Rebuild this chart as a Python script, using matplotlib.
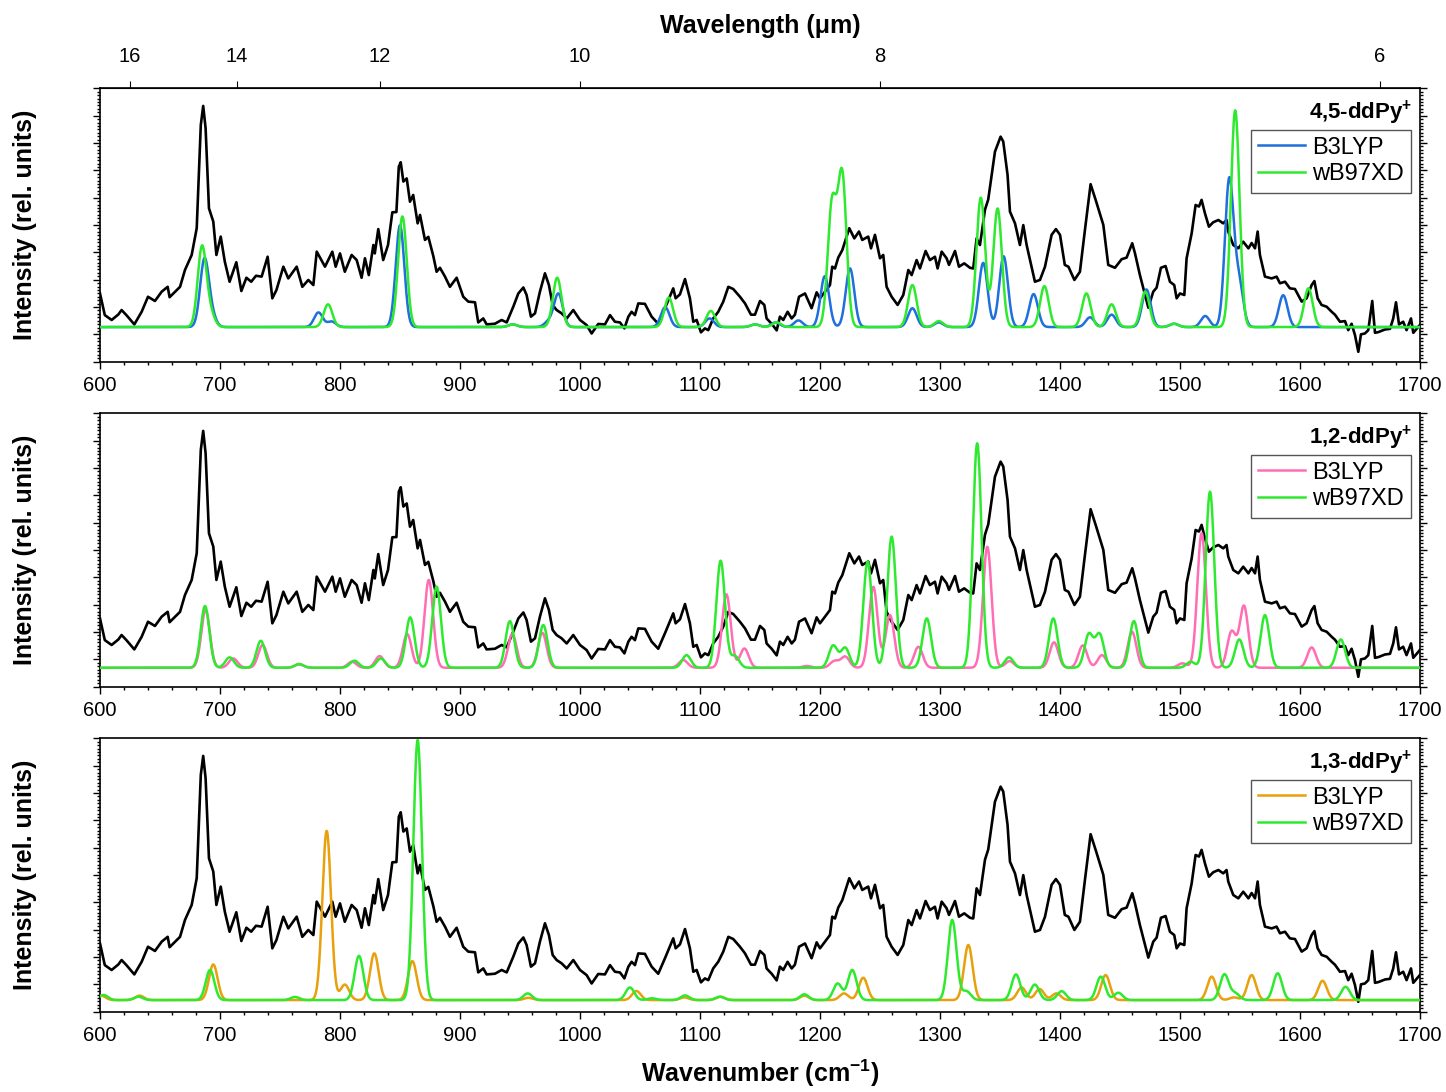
import numpy as np
import matplotlib
matplotlib.use("Agg")
import matplotlib.pyplot as plt
from matplotlib.ticker import MultipleLocator, FixedLocator, NullLocator

plt.rcParams['font.family'] = ['Liberation Sans', 'DejaVu Sans']
plt.rcParams['mathtext.fontset'] = 'custom'
plt.rcParams['mathtext.rm'] = 'Liberation Sans'
plt.rcParams['mathtext.bf'] = 'Liberation Sans:bold'
plt.rcParams['mathtext.it'] = 'Liberation Sans:italic'

# experimental IR spectrum (same trace in every panel)
exp_wn = [600, 604, 609.7, 615.3, 618, 622, 628.6, 634.7, 640, 645.8, 651.4, 656.4, 658, 666.7, 670.8,
          676.4, 680.6, 684, 686, 688, 690.8, 694.4, 697, 700.6, 704, 708, 713.6, 717.8, 722, 726,
          730, 734.7, 739.7, 743.6, 747, 752.8, 756.9, 763.9, 768.6, 773.6, 777.8, 780.6, 787.5,
          793.6, 796.4, 800, 804, 809.7, 813.9, 818, 820.8, 824, 827.8, 829, 831.9, 836, 840,
          843.6, 847, 849, 850.6, 852.8, 855.6, 858.3, 861, 864.7, 866.7, 870.8, 873.6, 877.8,
          880.5, 883.3, 887.5, 891.6, 897.2, 902.7, 906.9, 912.5, 915.2, 919.4, 922.2, 929.1,
          934.7, 938.9, 944.4, 948.6, 952.8, 955.5, 959.1, 962.5, 966.6, 970.8, 974.1, 977.2,
          980.5, 984.7, 988.9, 994.4, 1000, 1005.5, 1009.7, 1015.2, 1020.8, 1025, 1029.1, 1033.3,
          1037, 1040.3, 1043, 1045.8, 1048.6, 1054.1, 1059.7, 1065.2, 1070.8, 1077.7, 1079.7,
          1083.3, 1087.5, 1091.6, 1094.4, 1097.2, 1100.8, 1104.1, 1106.9, 1111, 1115.2, 1119.4,
          1123.6, 1127.7, 1133.3, 1137.5, 1142.5, 1145.8, 1150, 1153.6, 1155.5, 1159.7, 1163.9,
          1166.6, 1169.4, 1173, 1176.4, 1179.1, 1182.5, 1187.5, 1193, 1197.2, 1200, 1204.1,
          1208.3, 1210.2, 1212.5, 1215.2, 1218.6, 1220.8, 1224.4, 1228.6, 1232.5, 1235.2, 1240.2,
          1242.5, 1245.8, 1250, 1252.7, 1255.5, 1259.7, 1264.7, 1269.4, 1273.6, 1276.4, 1280.5,
          1283.3, 1288, 1291.6, 1295.8, 1298, 1301.4, 1305.5, 1307.5, 1312.5, 1315.8, 1320.2,
          1325, 1327.7, 1330.5, 1333.3, 1337.5, 1340.2, 1345.8, 1350.5, 1352.7, 1356.3, 1358.3,
          1362.5, 1366.6, 1369.4, 1372.2, 1379.1, 1383.3, 1387.5, 1393, 1396.6, 1400, 1404, 1407,
          1412, 1416.6, 1420.8, 1425.5, 1430, 1436.1, 1440.2, 1445.8, 1451.4, 1455.5, 1460.2,
          1462.5, 1466.6, 1473.6, 1477.7, 1480.5, 1484.1, 1488, 1491.6, 1495.2, 1497.2, 1500,
          1503.6, 1505.5, 1509.7, 1513, 1515.8, 1518, 1520.8, 1524.1, 1527.7, 1532, 1536, 1538.8,
          1540.2, 1544.4, 1548.6, 1552.7, 1557, 1559.7, 1562.5, 1564.7, 1566.6, 1570.8, 1576.4,
          1580.5, 1583.3, 1587.5, 1591.6, 1595.8, 1601.4, 1605.5, 1609.7, 1612, 1614.7, 1618,
          1622.2, 1626.4, 1629.1, 1633.3, 1637.5, 1640.2, 1643, 1645.8, 1648.6, 1650.8, 1654.1,
          1656.9, 1660.2, 1662.5, 1665.2, 1670.8, 1675, 1677.7, 1680, 1682.5, 1686, 1688.8,
          1692.5, 1694.4, 1698, 1700]
exp_int = [0.152, 0.054, 0.032, 0.057, 0.077, 0.054, 0.012, 0.069, 0.137, 0.118, 0.160, 0.182, 0.135,
           0.182, 0.258, 0.326, 0.447, 0.914, 1.0, 0.899, 0.537, 0.477, 0.326, 0.409, 0.296, 0.205,
           0.293, 0.163, 0.223, 0.205, 0.232, 0.228, 0.318, 0.130, 0.167, 0.273, 0.220, 0.273,
           0.182, 0.213, 0.190, 0.341, 0.273, 0.341, 0.273, 0.333, 0.250, 0.326, 0.303, 0.223,
           0.311, 0.235, 0.371, 0.333, 0.443, 0.303, 0.371, 0.519, 0.520, 0.725, 0.745, 0.658,
           0.672, 0.567, 0.597, 0.469, 0.507, 0.394, 0.408, 0.320, 0.250, 0.268, 0.228, 0.182,
           0.223, 0.137, 0.115, 0.112, 0.021, 0.039, 0.012, 0.015, 0.032, 0.021, 0.092, 0.152,
           0.179, 0.145, 0.047, 0.062, 0.160, 0.243, 0.190, 0.100, 0.077, 0.062, 0.039, 0.077,
           0.032, 0.009, -0.029, 0.014, 0.012, 0.054, 0.024, 0.021, -0.006, 0.047, 0.069, 0.054,
           0.107, 0.105, 0.047, 0.015, 0.085, 0.175, 0.130, 0.148, 0.217, 0.130, 0.024, 0.032,
           -0.024, -0.006, -0.014, 0.039, 0.069, 0.115, 0.182, 0.172, 0.137, 0.107, 0.056, 0.056,
           0.118, 0.100, 0.039, 0.015, -0.015, 0.047, 0.032, 0.069, 0.039, 0.056, 0.137, 0.152,
           0.085, 0.157, 0.130, 0.160, 0.190, 0.273, 0.265, 0.314, 0.348, 0.386, 0.447, 0.401,
           0.432, 0.394, 0.409, 0.356, 0.417, 0.311, 0.326, 0.182, 0.137, 0.100, 0.145, 0.258,
           0.235, 0.303, 0.265, 0.344, 0.303, 0.318, 0.265, 0.341, 0.311, 0.281, 0.344, 0.273,
           0.288, 0.268, 0.265, 0.401, 0.371, 0.531, 0.577, 0.793, 0.861, 0.839, 0.688, 0.522,
           0.469, 0.371, 0.461, 0.371, 0.205, 0.213, 0.273, 0.417, 0.443, 0.417, 0.281, 0.273,
           0.213, 0.250, 0.440, 0.646, 0.570, 0.462, 0.281, 0.268, 0.307, 0.314, 0.379, 0.333,
           0.235, 0.088, 0.160, 0.178, 0.268, 0.276, 0.205, 0.190, 0.130, 0.152, 0.145, 0.311,
           0.423, 0.552, 0.545, 0.575, 0.514, 0.454, 0.474, 0.484, 0.469, 0.484, 0.432, 0.371,
           0.356, 0.386, 0.356, 0.380, 0.356, 0.432, 0.326, 0.228, 0.220, 0.228, 0.198, 0.205,
           0.175, 0.172, 0.115, 0.130, 0.190, 0.208, 0.130, 0.100, 0.092, 0.069, 0.056, 0.024,
           0.027, -0.014, 0.015, -0.036, -0.112, -0.033, -0.029, -0.014, 0.118, -0.026, -0.023,
           -0.011, -0.008, 0.039, 0.112, 0.012, 0.024, -0.014, 0.039, -0.026, -0.003, 0.010]

# computed band positions (cm-1) and peak heights
dd45_b3lyp_pos = [687, 693, 782, 793, 850, 944, 974, 982, 1071, 1108, 1146, 1163, 1182, 1204, 1225,
                  1277, 1299, 1336, 1353, 1378, 1425, 1443, 1472, 1495, 1521, 1541, 1549, 1586]
dd45_b3lyp_int = [0.30, 0.05, 0.066, 0.025, 0.46, 0.012, 0.025, 0.15, 0.09, 0.039, 0.012, 0.021,
                  0.03, 0.23, 0.265, 0.085, 0.021, 0.29, 0.32, 0.149, 0.044, 0.056, 0.17, 0.015,
                  0.05, 0.66, 0.2, 0.144]
dd45_wb97_pos = [685, 692, 790, 852, 944, 981, 1074, 1109, 1146, 1164, 1210, 1218.5, 1277, 1299,
                 1334, 1348, 1387, 1422, 1443, 1471, 1495, 1546, 1607]
dd45_wb97_int = [0.36, 0.06, 0.103, 0.50, 0.012, 0.223, 0.133, 0.073, 0.012, 0.021, 0.55, 0.68,
                 0.19, 0.027, 0.585, 0.536, 0.185, 0.152, 0.103, 0.16, 0.015, 0.98, 0.175]

dd12_b3lyp_pos = [688, 711, 735.5, 766, 810, 833, 856, 874, 943.6, 968.6, 1086, 1122, 1137, 1189,
                  1212, 1221, 1244.4, 1258.3, 1282, 1339.4, 1358, 1395, 1419, 1435, 1460, 1502,
                  1518, 1543, 1553.3, 1609.7]
dd12_b3lyp_int = [0.261, 0.042, 0.103, 0.015, 0.027, 0.053, 0.152, 0.397, 0.152, 0.158, 0.035,
                  0.332, 0.087, 0.008, 0.03, 0.05, 0.366, 0.238, 0.095, 0.547, 0.03, 0.115, 0.101,
                  0.057, 0.163, 0.02, 0.608, 0.163, 0.279, 0.092]
dd12_wb97_pos = [687.5, 708, 734, 766, 812, 834, 858.5, 880.5, 941.6, 969.4, 1088.8, 1117.2, 1129,
                 1211, 1221, 1239.7, 1259.7, 1289, 1331, 1357.5, 1394.4, 1424, 1433, 1461.6, 1509,
                 1525, 1549.4, 1570.8, 1634]
dd12_wb97_int = [0.279, 0.047, 0.122, 0.017, 0.032, 0.042, 0.228, 0.367, 0.211, 0.193, 0.057,
                 0.484, 0.053, 0.10, 0.09, 0.48, 0.593, 0.223, 1.015, 0.047, 0.223, 0.15, 0.15,
                 0.211, 0.027, 0.796, 0.128, 0.238, 0.128]

dd13_b3lyp_pos = [601, 633, 694.4, 788.9, 804, 828.6, 860.3, 957, 1047, 1087, 1117, 1187, 1220,
                  1236, 1323.6, 1368, 1383, 1397, 1438, 1526.4, 1545, 1559.7, 1618.8]
dd13_b3lyp_int = [0.02, 0.02, 0.161, 0.765, 0.07, 0.211, 0.176, 0.01, 0.041, 0.012, 0.015, 0.02,
                  0.03, 0.101, 0.249, 0.057, 0.05, 0.03, 0.113, 0.106, 0.012, 0.113, 0.087]
dd13_wb97_pos = [603, 632, 691.7, 762.5, 815.8, 864.7, 956.4, 1041.6, 1060, 1087.5, 1116.6,
                 1186.9, 1214.7, 1226.9, 1310.2, 1322, 1363.3, 1379, 1401.4, 1434, 1448.6, 1537,
                 1546, 1581.4, 1638]
dd13_wb97_int = [0.023, 0.015, 0.136, 0.014, 0.2, 1.176, 0.03, 0.057, 0.008, 0.021, 0.015, 0.026,
                 0.075, 0.136, 0.362, 0.04, 0.116, 0.07, 0.04, 0.106, 0.033, 0.116, 0.03, 0.121,
                 0.06]

names = ['4,5-ddPy', '1,2-ddPy', '1,3-ddPy']
b3lyp_colors = ['#1f6fdc', '#ff6eb4', '#e8a00c']
wb97_color = '#2eea2e'
sim_offsets = [0.0, -0.071, -0.104]

BAND_SIGMA = 3.6  # cm-1, gaussian broadening of the computed sticks


def broaden(pos, hts, grid):
    spec = np.zeros_like(grid)
    for p, h in zip(pos, hts):
        spec += h * np.exp(-(grid - p) ** 2 / (2 * BAND_SIGMA ** 2))
    return spec


grid = np.arange(600, 1700.25, 0.25)
sims = [(dd45_b3lyp_pos, dd45_b3lyp_int, dd45_wb97_pos, dd45_wb97_int),
        (dd12_b3lyp_pos, dd12_b3lyp_int, dd12_wb97_pos, dd12_wb97_int),
        (dd13_b3lyp_pos, dd13_b3lyp_int, dd13_wb97_pos, dd13_wb97_int)]

fig = plt.figure(figsize=(14.46, 10.92), dpi=100)
left, width, height = 100 / 1446, 1320 / 1446, 274 / 1092
bottoms = [1 - 362 / 1092, 1 - 687 / 1092, 1 - 1012 / 1092]

for i, (name, col, off, sim) in enumerate(zip(names, b3lyp_colors, sim_offsets, sims)):
    ax = fig.add_axes([left, bottoms[i], width, height])
    bp, bi, wp, wi = sim
    ax.plot(exp_wn, exp_int, color='black', lw=1.9, zorder=2)
    ax.plot(grid, broaden(bp, bi, grid) + off, color=col, lw=1.8, label='B3LYP', zorder=3)
    ax.plot(grid, broaden(wp, wi, grid) + off, color=wb97_color, lw=1.8, label='wB97XD', zorder=4)

    ax.set_xlim(600, 1700)
    ax.set_ylim(-0.158, 1.081)
    ax.xaxis.set_major_locator(MultipleLocator(100))
    ax.xaxis.set_minor_locator(MultipleLocator(20))
    ax.yaxis.set_major_locator(MultipleLocator(0.1236, offset=-0.033))
    ax.yaxis.set_minor_locator(MultipleLocator(0.1236 / 8, offset=-0.033))
    ax.tick_params(axis='both', which='both', direction='out', top=False, right=True,
                   labelleft=False, labelsize=14.5, width=1.0)
    ax.tick_params(axis='x', which='major', pad=5)
    ax.tick_params(which='major', length=5)
    ax.tick_params(which='minor', length=2.5)
    for s in ax.spines.values():
        s.set_linewidth(1.2)
    ax.set_ylabel('Intensity (rel. units)', fontsize=18, fontweight='bold', labelpad=40)

    ax.text(0.994, 0.96, name + r'$^{\mathbf{+}}$', transform=ax.transAxes, ha='right',
            va='top', fontsize=16, fontweight='bold')
    leg = ax.legend(loc='upper right', bbox_to_anchor=(0.993, 0.848), fontsize=17,
                    handlelength=2.0, handletextpad=0.3, borderpad=0.3, labelspacing=0.2,
                    borderaxespad=0, fancybox=False, framealpha=1)
    leg.get_frame().set_edgecolor('#555555')
    leg.get_frame().set_linewidth(1.0)

    if i == 0:
        top = ax.secondary_xaxis('top', functions=(lambda x: 1e4 / np.asarray(x, float),
                                                   lambda x: 1e4 / np.asarray(x, float)))
        top.xaxis.set_major_locator(FixedLocator([16, 14, 12, 10, 8, 6]))
        top.xaxis.set_minor_locator(NullLocator())
        top.tick_params(direction='out', length=5, labelsize=14.5, pad=11)
        top.set_xlabel('Wavelength (μm)', fontsize=18, fontweight='bold', labelpad=10)
    if i == 2:
        ax.set_xlabel(r'Wavenumber (cm$^{\mathbf{-1}}$)', fontsize=18, fontweight='bold',
                      labelpad=9)

fig.savefig('out.png', dpi=100)
